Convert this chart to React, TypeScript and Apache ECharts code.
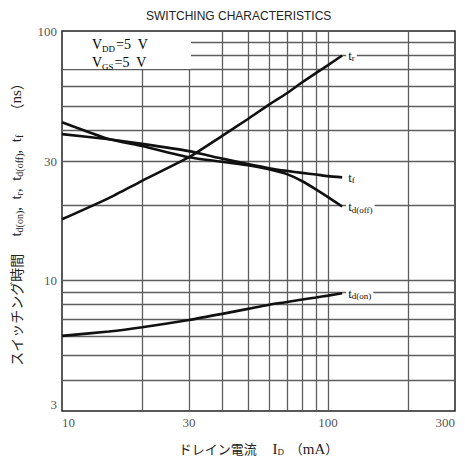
import React, { useEffect, useRef } from 'react';
import * as echarts from 'echarts';

const currentMA = [10, 15, 20, 30, 40, 50, 60, 70, 80, 90, 100, 113];
const tr = [17.6, 21.4, 25.1, 31.2, 38.0, 44.4, 50.7, 56.3, 62.3, 67.8, 73.0, 79.8];
const tf = [38.6, 36.8, 35.3, 33.0, 30.8, 29.3, 28.2, 27.5, 27.0, 26.6, 26.2, 25.9];
const tdoff = [43.1, 36.9, 34.6, 31.2, 29.9, 29.0, 27.9, 26.7, 25.0, 23.2, 21.6, 19.8];
const tdon = [6.0, 6.25, 6.5, 6.95, 7.35, 7.7, 8.0, 8.2, 8.4, 8.55, 8.7, 8.9];

const xTickLabels = [10, 30, 100, 300];
const yTickLabels = [3, 10, 30, 100];
const xGridValues = [20, 30, 40, 50, 60, 70, 80, 90, 100, 200];
const yGridValues = [4, 5, 6, 7, 8, 9, 10, 20, 30, 40, 50, 60, 70, 80, 90];

const seriesNames = ['t_r', 't_f', 't_d(off)', 't_d(on)'];
const seriesSubs = ['r', 'f', 'd(off)', 'd(on)'];
const seriesValues = [tr, tf, tdoff, tdon];

const SERIF = '"Liberation Serif", "DejaVu Serif", serif';
const CJK = '"Noto Sans CJK JP", "Noto Sans", sans-serif';

export default function App() {
  const ref = useRef<HTMLDivElement>(null);
  useEffect(() => {
    if (!ref.current) return;
    const chart = echarts.init(ref.current, undefined, { renderer: 'svg' });
    const subRich = {
      t: { fontFamily: SERIF, fontSize: 13, color: '#111' },
      s: { fontFamily: SERIF, fontSize: 9, color: '#111', verticalAlign: 'bottom', padding: [6, 0, 0, 0] },
    };
    const curveSeries = seriesValues.map((vals, i) => ({
      name: seriesNames[i],
      type: 'line',
      data: currentMA.map((x, j) => [x, vals[j]]),
      showSymbol: false,
      smooth: 0.2,
      z: 5,
      lineStyle: { color: '#111', width: 2.6 },
      endLabel: {
        show: true,
        formatter: '{t|t}{s|' + seriesSubs[i] + '}',
        distance: 4,
        backgroundColor: '#fff',
        padding: [0, 2, 0, 2],
        rich: subRich,
      },
    }));
    const option = {
      animation: false,
      backgroundColor: '#fff',
      title: {
        text: 'SWITCHING CHARACTERISTICS',
        left: 141,
        top: 5,
        textStyle: { fontFamily: '"Liberation Sans", Arial, sans-serif', fontSize: 12, fontWeight: 'normal', color: '#222' },
      },
      grid: { left: 62, right: 10, top: 31, bottom: 50, show: true, borderColor: '#222', borderWidth: 1.5, backgroundColor: '#fff' },
      xAxis: {
        type: 'log', logBase: 10, min: 10, max: 300,
        axisLabel: { show: false }, axisTick: { show: false }, splitLine: { show: false },
        axisLine: { show: false },
        name: 'ドレイン電流　 {i|I}{d|D}  （{m|mA}）',
        nameLocation: 'middle', nameGap: 30,
        nameTextStyle: {
          fontFamily: CJK, fontSize: 13, color: '#222',
          rich: {
            i: { fontFamily: SERIF, fontSize: 15, color: '#222' },
            d: { fontFamily: SERIF, fontSize: 9, color: '#222', verticalAlign: 'bottom', padding: [6, 0, 0, 0] },
            m: { fontFamily: SERIF, fontSize: 15, color: '#222' },
          },
        },
      },
      yAxis: {
        type: 'log', logBase: 10, min: 3, max: 100,
        axisLabel: { show: false }, axisTick: { show: false }, splitLine: { show: false },
        axisLine: { show: false },
        name: 'スイッチング時間　 {t|t}{s|d(on)}{t|,  t}{s|r}{t|,  t}{s|d(off)}{t|,  t}{s|f}　 （{t|ns}）',
        nameLocation: 'middle', nameRotate: 90, nameGap: 38,
        nameTextStyle: {
          fontFamily: CJK, fontSize: 14, color: '#222',
          rich: {
            t: { fontFamily: SERIF, fontSize: 15, color: '#222' },
            s: { fontFamily: SERIF, fontSize: 10, color: '#222', verticalAlign: 'bottom', padding: [6, 0, 0, 0] },
          },
        },
      },
      graphic: [
        { type: 'rect', z: 10, shape: { x: 63, y: 32, width: 128, height: 37 }, style: { fill: '#fff' } },
        {
          type: 'text', z: 11, x: 92, y: 35,
          style: {
            text: '{v|V}{s|DD}{v|=5  V}\n{v|V}{s|GS}{v|=5  V}',
            rich: {
              v: { fontFamily: SERIF, fontSize: 14, color: '#111', lineHeight: 18 },
              s: { fontFamily: SERIF, fontSize: 9, color: '#111', verticalAlign: 'bottom', lineHeight: 18, padding: [7, 1, 0, 0] },
            },
          },
        },
      ],
      series: [
        {
          type: 'line', data: [], silent: true, z: 1,
          markLine: {
            silent: true, symbol: ['none', 'none'], label: { show: false },
            lineStyle: { color: '#5e5e5e', width: 1.3, type: 'solid' },
            data: [
              ...xGridValues.map((v) => ({ xAxis: v })),
              ...yGridValues.map((v) => ({ yAxis: v })),
            ],
          },
        },
        ...curveSeries,
        {
          type: 'scatter', silent: true, symbolSize: 0, z: 6,
          data: xTickLabels.map((v, i) => ({
            value: [v, yTickLabels[0]],
            label: { align: i === 0 ? 'left' : i === xTickLabels.length - 1 ? 'right' : 'center' },
          })),
          label: {
            show: true, position: 'bottom', distance: 5,
            formatter: (p: any) => String(p.value[0]),
            fontFamily: SERIF, fontSize: 13, color: '#222',
          },
        },
        {
          type: 'scatter', silent: true, symbolSize: 0, z: 6,
          data: yTickLabels.map((v, i) => ({
            value: [xTickLabels[0], v],
            label: { verticalAlign: i === 0 ? 'bottom' : 'middle' },
          })),
          label: {
            show: true, position: 'left', distance: 5,
            formatter: (p: any) => String(p.value[1]),
            fontFamily: SERIF, fontSize: 13, color: '#222',
          },
        },
      ],
    };
    chart.setOption(option as any);
    return () => chart.dispose();
  }, []);
  return (
    <div
      ref={ref}
      style={{ position: 'fixed', left: 0, top: 0, width: 465, height: 461, background: '#fff' }}
    />
  );
}
